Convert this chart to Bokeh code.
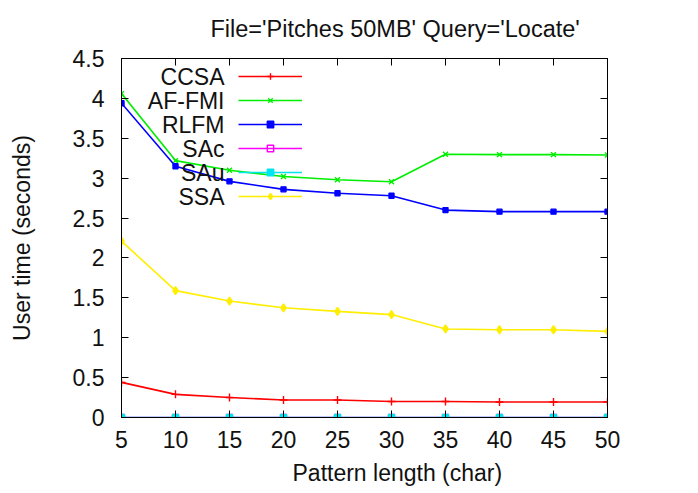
from bokeh.plotting import figure
from bokeh.models import Range1d, LinearAxis, FixedTicker, Legend, LegendItem, Title, Label
from bokeh.embed import file_html
from bokeh.resources import INLINE

# ---- data ----
pattern_length = [5, 10, 15, 20, 25, 30, 35, 40, 45, 50]
ccsa = [0.44, 0.29, 0.25, 0.22, 0.22, 0.20, 0.20, 0.195, 0.195, 0.195]
af_fmi = [4.06, 3.22, 3.10, 3.02, 2.98, 2.955, 3.30, 3.295, 3.295, 3.29]
rlfm = [3.94, 3.15, 2.96, 2.86, 2.81, 2.78, 2.60, 2.58, 2.58, 2.58]
sac = [0.0, 0.0, 0.0, 0.0, 0.0, 0.0, 0.0, 0.0, 0.0, 0.0]
sau = [0.0, 0.0, 0.0, 0.0, 0.0, 0.0, 0.0, 0.0, 0.0, 0.0]
ssa = [2.21, 1.59, 1.46, 1.375, 1.33, 1.29, 1.11, 1.10, 1.10, 1.08]

series_names = ["CCSA", "AF-FMI", "RLFM", "SAc", "SAu", "SSA"]

x_ticks = [5, 10, 15, 20, 25, 30, 35, 40, 45, 50]
y_ticks = [0, 0.5, 1, 1.5, 2, 2.5, 3, 3.5, 4, 4.5]
y_tick_labels = ["0", "0.5", "1", "1.5", "2", "2.5", "3", "3.5", "4", "4.5"]

title_text = "File='Pitches 50MB' Query='Locate'"
x_label = "Pattern length (char)"
y_label = "User time (seconds)"

FONT = "Liberation Sans"
FS = "23px"
TXT = "#111111"

p = figure(width=698, height=493, output_backend="svg", toolbar_location=None,
           x_range=Range1d(5, 50), y_range=Range1d(0, 4.5),
           min_border_left=121, min_border_right=91, min_border_top=58,
           min_border_bottom=76)

p.title.text = title_text
p.title.text_font = FONT
p.title.text_font_size = "23.5px"
p.title.text_font_style = "normal"
p.title.text_color = TXT
p.title.align = "left"
p.title.offset = 89
p.title.standoff = 30
p.title.vertical_align = "top"

p.xgrid.visible = False
p.ygrid.visible = False
p.outline_line_color = "black"
p.outline_line_width = 1
p.background_fill_color = "white"
p.border_fill_color = "white"


def style_axis(ax, labels=True):
    ax.major_tick_in = 7
    ax.major_tick_out = 0
    ax.minor_tick_in = 0
    ax.minor_tick_out = 0
    ax.axis_line_color = "black"
    ax.major_tick_line_color = "black"
    ax.major_label_text_font = FONT
    ax.major_label_text_font_size = FS if labels else "0px"
    ax.major_label_text_color = TXT


xa = p.xaxis[0]
xa.ticker = FixedTicker(ticks=x_ticks)
style_axis(xa)
xa.major_label_standoff = 13

ya = p.yaxis[0]
ya.ticker = FixedTicker(ticks=y_ticks)
ya.major_label_overrides = {t: l for t, l in zip(y_ticks, y_tick_labels)}
style_axis(ya)
ya.major_label_standoff = 17
ya.axis_label = y_label
ya.axis_label_text_font = FONT
ya.axis_label_text_font_size = FS
ya.axis_label_text_font_style = "normal"
ya.axis_label_text_color = TXT
ya.axis_label_standoff = 35

top_ax = LinearAxis(ticker=FixedTicker(ticks=x_ticks))
style_axis(top_ax, labels=False)
top_ax.major_label_standoff = 0
p.add_layout(top_ax, "above")
right_ax = LinearAxis(ticker=FixedTicker(ticks=y_ticks))
style_axis(right_ax, labels=False)
p.add_layout(right_ax, "right")

xt = Title(text=x_label, align="left", offset=171, text_font=FONT, standoff=15,
           text_font_size=FS, text_font_style="normal", text_color=TXT)
p.add_layout(xt, "below")

styles = [
    ("#ff0000", "cross", 8, True),
    ("#00ee00", "x", 7, True),
    ("#0000ff", "square", 5, True),
    ("#ff00ff", "square", 6, False),
    ("#00e5ee", "square", 6, True),
    ("#ffee00", "diamond", 8, True),
]
values = [ccsa, af_fmi, rlfm, sac, sau, ssa]

items = []
for name, ys, (color, marker, size, filled) in zip(series_names, values, styles):
    r1 = p.line(pattern_length, ys, line_color=color, line_width=1.6)
    r2 = p.scatter(pattern_length, ys, marker=marker, size=size,
                   line_color=color, line_width=1.4,
                   fill_color=color if filled else None)
    items.append(LegendItem(label=" ", renderers=[r1, r2]))

legend = Legend(items=items, location=(117, 213), orientation="vertical")
legend.glyph_width = 64
legend.glyph_height = 16
legend.label_height = 16
legend.label_width = 1
legend.spacing = 8
legend.padding = 0
legend.margin = 0
legend.label_standoff = 0
legend.label_text_font_size = "8px"
legend.border_line_color = None
legend.background_fill_alpha = 0
p.add_layout(legend, "center")

# legend texts (gnuplot style: text to the left of the sample)
for i, name in enumerate(series_names):
    p.add_layout(Label(x=103, y=341 - 24 * i, x_units="screen", y_units="screen",
                       text=name, text_align="right", text_baseline="middle",
                       text_font=FONT, text_font_size=FS, text_color=TXT))

open("out.html", "w").write(file_html(p, INLINE))
